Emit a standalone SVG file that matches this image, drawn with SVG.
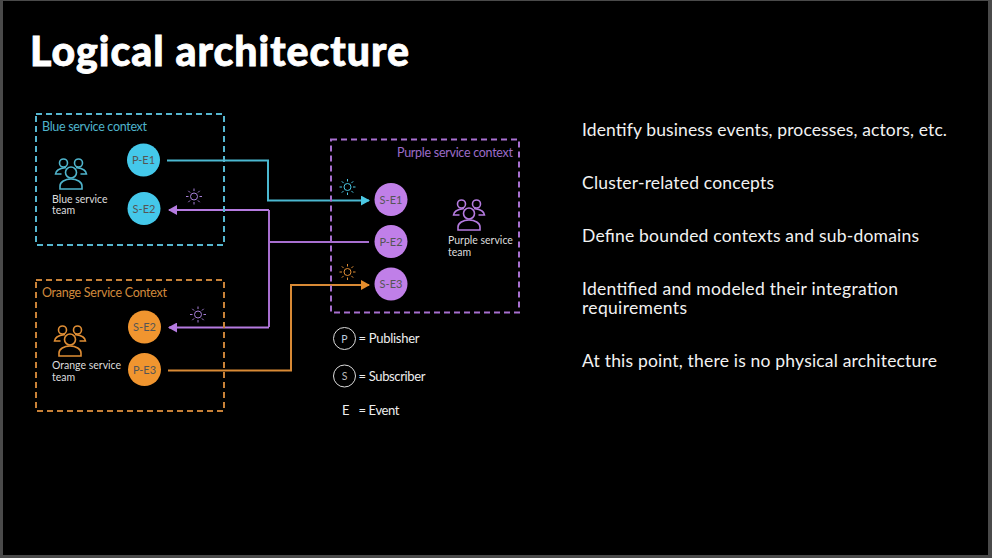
<svg xmlns="http://www.w3.org/2000/svg" width="992" height="558" viewBox="0 0 992 558">
<style>
text{font-family:Lato,"Noto Sans",sans-serif}
.box{fill:none;stroke-width:2;stroke-dasharray:6 4}
.w{fill:#ddd;font-size:10.500px}
.r{fill:#f2f2f2;font-size:17.500px}
.n{font-size:11px;text-anchor:middle;fill:#555}
.l{fill:#eee;font-size:13px}
.c{fill:none;stroke-width:2}
.i{fill:none;stroke-width:1.600}
.s{fill:none;stroke-width:1}
</style>
<defs>
<g id="team"><circle cx="-7.500" cy="-12" r="4"/><path d="M-5-7.500c-3 .5-10 1-10.500 6.500h6M5-7.500c3 .5 10 1 10.500 6.500h-6"/><circle cx="7.500" cy="-12" r="4"/><circle cx="0" cy="-2.500" r="5.500"/><path d="M-11 14v-3c0-4 5-7 11-7s11 3 11 7v3z"/></g>
<g id="sun"><circle r="3.500"/><path d="M0-8v2.500M0 8v-2.500M-8 0h2.500M8 0h-2.500M-5.700-5.700l1.800 1.800M5.700 5.700l-1.800-1.800M-5.700 5.700l1.800-1.800M5.700-5.700l-1.800 1.800"/></g>
<marker id="ac" markerUnits="userSpaceOnUse" markerWidth="10" markerHeight="10" refX="8" refY="5" orient="auto"><path d="M0 0L9 5L0 10z" fill="#4bc8e4"/></marker>
<marker id="ap" markerUnits="userSpaceOnUse" markerWidth="10" markerHeight="10" refX="8" refY="5" orient="auto"><path d="M0 0L9 5L0 10z" fill="#b57be0"/></marker>
<marker id="ao" markerUnits="userSpaceOnUse" markerWidth="10" markerHeight="10" refX="8" refY="5" orient="auto"><path d="M0 0L9 5L0 10z" fill="#e58d2c"/></marker>
</defs>
<rect width="992" height="558" fill="#4a4a4a"/>
<rect x="3" y="1" width="985" height="554" fill="#000"/>
<text x="30" y="66" font-size="41" font-weight="900" fill="#fff" stroke="#fff" stroke-width=".8" textLength="379">Logical architecture</text>

<g id="connectors">
<path class="c" stroke="#4bb8d0" d="M167 160.500H268V200.500H369" marker-end="url(#ac)"/>
<path class="c" stroke="#a86fd0" d="M369 242H269M269 210V327"/>
<path class="c" stroke="#b57be0" d="M269 210H169" marker-end="url(#ap)"/>
<path class="c" stroke="#b57be0" d="M269 327.500H169" marker-end="url(#ap)"/>
<path class="c" stroke="#d98a35" d="M168 370.500H291V285H369" marker-end="url(#ao)"/>
</g>

<g id="blue-context"><rect class="box" x="36" y="114" width="188" height="131" stroke="#56b6cf"/><text x="42" y="131" font-size="12.500" fill="#4fb4cc" textLength="105">Blue service context</text></g>
<g id="blue-team"><use href="#team" x="71" y="175" class="i" stroke="#4fb4cc"/><text class="w" x="52" y="202.500">Blue service</text><text class="w" x="52" y="214">team</text></g>
<g id="p-e1"><circle cx="143.500" cy="160" r="16.500" fill="#44c8ea"/><text class="n" x="143.500" y="164">P-E1</text></g>
<g id="s-e2-blue"><circle cx="144" cy="208.500" r="16.500" fill="#44c8ea"/><text class="n" x="144" y="212.500">S-E2</text></g>
<use id="sun-blue" href="#sun" x="194" y="196.500" class="s" stroke="#a77fd8"/>

<g id="orange-context"><rect class="box" x="36" y="280" width="188" height="131" stroke="#c98238"/><text x="42" y="297" font-size="12.500" fill="#d08a3c" textLength="125">Orange Service Context</text></g>
<g id="orange-team"><use href="#team" x="70" y="342" class="i" stroke="#e08e35"/><text class="w" x="52" y="369">Orange service</text><text class="w" x="52" y="380.500">team</text></g>
<g id="s-e2-orange"><circle cx="144.500" cy="327" r="16.500" fill="#f0952f"/><text class="n" x="144.500" y="331">S-E2</text></g>
<g id="p-e3"><circle cx="144.500" cy="369.500" r="16.500" fill="#f0952f"/><text class="n" x="144.500" y="373.500">P-E3</text></g>
<use id="sun-orange" href="#sun" x="198" y="314.500" class="s" stroke="#a77fd8"/>

<g id="purple-context"><rect class="box" x="331" y="139.500" width="188" height="173" stroke="#a86fd0"/><text x="397" y="157" font-size="12.500" fill="#9c6cc8" textLength="116">Purple service context</text></g>
<g id="purple-team"><use href="#team" x="469" y="216" class="i" stroke="#b57be0"/><text class="w" x="448" y="244">Purple service</text><text class="w" x="448" y="255.500">team</text></g>
<g id="s-e1"><circle cx="391" cy="199.500" r="16.500" fill="#c07fe8"/><text class="n" x="391" y="203.500">S-E1</text></g>
<g id="p-e2"><circle cx="391" cy="241.500" r="16.500" fill="#c07fe8"/><text class="n" x="391" y="245.500">P-E2</text></g>
<g id="s-e3"><circle cx="391" cy="284" r="16.500" fill="#c07fe8"/><text class="n" x="391" y="288">S-E3</text></g>
<use id="sun-cyan" href="#sun" x="347.500" y="187" class="s" stroke="#4bc8e4"/>
<use id="sun-amber" href="#sun" x="347.500" y="272" class="s" stroke="#e08e35"/>

<g id="legend">
<circle cx="344.500" cy="338.500" r="11" fill="none" stroke="#ddd" stroke-width="1"/><text x="344.500" y="342.500" font-size="10.500" fill="#bcd" text-anchor="middle">P</text><text class="l" x="358.500" y="343" textLength="61">= Publisher</text>
<circle cx="344.500" cy="376" r="11" fill="none" stroke="#ddd" stroke-width="1"/><text x="344.500" y="380" font-size="10.500" fill="#bbb" text-anchor="middle">S</text><text class="l" x="358.500" y="381" textLength="67">= Subscriber</text>
<text class="l" x="342" y="415">E</text><text class="l" x="358.500" y="415" textLength="41">= Event</text>
</g>

<g id="notes">
<text class="r" x="582" y="136" textLength="365">Identify business events, processes, actors, etc.</text>
<text class="r" x="582" y="189" textLength="192">Cluster-related concepts</text>
<text class="r" x="582" y="242" textLength="337">Define bounded contexts and sub-domains</text>
<text class="r" x="582" y="294.500" textLength="316">Identified and modeled their integration</text>
<text class="r" x="582" y="314" textLength="105">requirements</text>
<text class="r" x="582" y="367" textLength="355">At this point, there is no physical architecture</text>
</g>
</svg>
